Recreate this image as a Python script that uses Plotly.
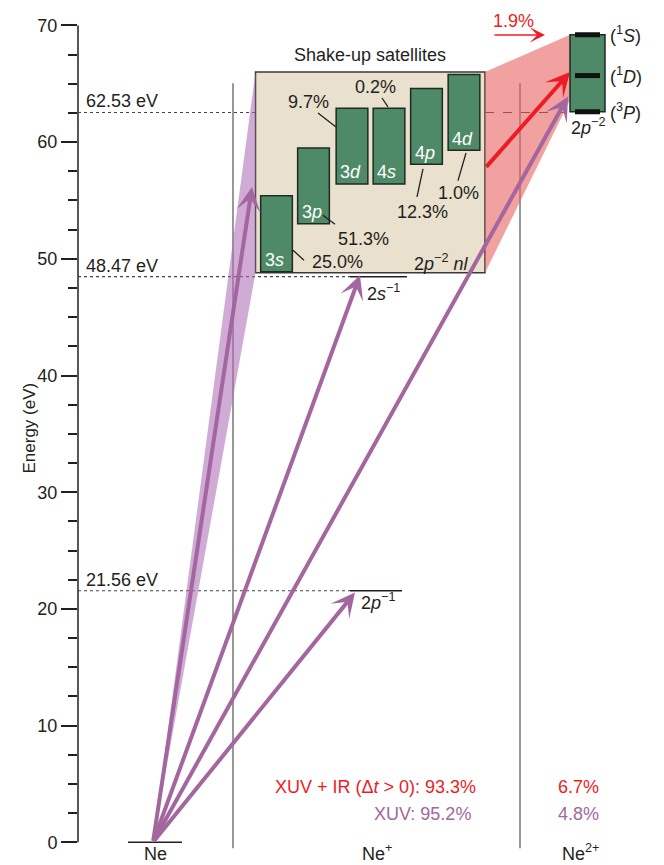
import plotly.graph_objects as go

# ---------------- data (energies in eV) ----------------
threshold_energies = [62.53, 48.47, 21.56]
threshold_labels = ["62.53 eV", "48.47 eV", "21.56 eV"]

ion_level_energies = [48.47, 21.56]
ion_level_names = ["2<i>s</i><sup>−1</sup>", "2<i>p</i><sup>−1</sup>"]

sat_names = ["3<i>s</i>", "3<i>p</i>", "3<i>d</i>", "4<i>s</i>", "4<i>p</i>", "4<i>d</i>"]
sat_low = [48.9, 53.0, 56.4, 56.4, 58.1, 59.3]
sat_high = [55.4, 59.5, 62.9, 62.9, 64.6, 65.8]
sat_share = ["25.0%", "51.3%", "9.7%", "0.2%", "12.3%", "1.0%"]

satellite_band = [48.8, 66.0]

dication_terms = ["(<sup>1</sup><i>S</i>)", "(<sup>1</sup><i>D</i>)", "(<sup>3</sup><i>P</i>)"]
dication_energies = [69.2, 65.7, 62.6]

species = ["Ne", "Ne<sup>+</sup>", "Ne<sup>2+</sup>"]

xuv_arrow_tips = [56.15, 48.6, 21.4, 63.9]
ir_arrow_span = [57.75, 66.0]

ir_shakeup_share = "1.9%"
single_yield = ["XUV + IR (Δ<i>t</i> > 0): 93.3%", "XUV: 95.2%"]
double_yield = ["6.7%", "4.8%"]

# ---------------- layout constants ----------------
INK = "#231F20"
RED = "#ED1C24"
PURPLE = "#A3669E"
GREEN = "#4F8A68"
BEIGE = "#E9E0CE"
FONT = "Liberation Sans, Arial, Helvetica, sans-serif"
FS = 18
Y_TOP = 842.3 / 11.67
Y_BOTTOM = -(865 - 842.3) / 11.67

X_NE = 153
species_x = [155, 377, 580]
separator_x = [233, 520]
box_x = [255.5, 485]
sat_x = [276.5, 313.5, 352, 389, 426.5, 464]
sat_w = 31.7
dication_x = [570, 605]
ion_level_x = [[350, 407], [350, 402]]
xuv_tip_x = [252, 360, 355, 568]
share_pos = [(337, 49.7), (363, 51.7), (308, 63.45), (375, 64.72), (422, 54.0), (458, 55.63)]
leader = [((293, 50.73), (304, 49.88)), ((323, 53.73), (335, 52.96)),
          ((318, 62.49), (336, 61.29)), ((382, 63.78), (388, 63.01)),
          ((417, 55.3), (423, 57.7)), ((458, 56.7), (466, 59.07))]

fig = go.Figure()
shapes = []
ann = []

# axis spine
shapes.append(dict(type="line", xref="paper", x0=0, x1=0, yref="y", y0=0, y1=70,
                   line=dict(color=INK, width=1.5), layer="below"))

# column separators
for sx in separator_x:
    shapes.append(dict(type="line", x0=sx, x1=sx, y0=-0.5, y1=65.05,
                       line=dict(color="#444", width=1.1), layer="below"))

# threshold guide lines
ends = [box_x[0], ion_level_x[0][0], ion_level_x[1][0]]
for e, lab, x1 in zip(threshold_energies, threshold_labels, ends):
    shapes.append(dict(type="line", x0=78, x1=x1, y0=e, y1=e,
                       line=dict(color="#444", width=1.1, dash="dot"), layer="below"))
    ann.append(dict(x=84, y=e + 0.95, text=lab, showarrow=False, xanchor="left",
                    yanchor="middle", font=dict(size=FS, color=INK)))
shapes.append(dict(type="line", x0=box_x[1], x1=dication_x[0], y0=threshold_energies[0],
                   y1=threshold_energies[0], line=dict(color="#333", width=1.1, dash="dash"),
                   layer="below"))

# ground state and ionic levels
shapes.append(dict(type="line", x0=128, x1=182, y0=0, y1=0,
                   line=dict(color=INK, width=1.5), layer="below"))
for e, (xa, xb) in zip(ion_level_energies, ion_level_x):
    shapes.append(dict(type="line", x0=xa, x1=xb, y0=e, y1=e,
                       line=dict(color=INK, width=1.5), layer="below"))

# shake-up satellite box
shapes.append(dict(type="rect", x0=box_x[0], x1=box_x[1], y0=satellite_band[0],
                   y1=satellite_band[1], fillcolor=BEIGE,
                   line=dict(color="#3a3a3a", width=1.5), layer="below"))

# transition cones
fig.add_trace(go.Scatter(
    x=[X_NE, box_x[0], box_x[0], X_NE],
    y=[0, satellite_band[1], satellite_band[0], 0],
    fill="toself", fillcolor="rgba(172,110,183,0.58)", mode="lines",
    line=dict(width=0), hoverinfo="skip", showlegend=False))
fig.add_trace(go.Scatter(
    x=[box_x[1], dication_x[0], dication_x[0], box_x[1], box_x[1]],
    y=[satellite_band[1], dication_energies[0], 63.6, satellite_band[0], satellite_band[1]],
    fill="toself", fillcolor="rgba(230,98,97,0.6)", mode="lines",
    line=dict(width=0), hoverinfo="skip", showlegend=False))

# satellite states
fig.add_trace(go.Bar(
    x=sat_x, y=[h - l for h, l in zip(sat_high, sat_low)], base=sat_low, width=sat_w,
    marker=dict(color=GREEN, line=dict(color="#1e2a22", width=1.5)),
    hoverinfo="skip", showlegend=False))
for name, xc, lo in zip(sat_names, sat_x, sat_low):
    ann.append(dict(x=xc - sat_w / 2 + 2, y=lo + 1.0, text=name, showarrow=False,
                    xanchor="left", yanchor="middle", font=dict(size=FS, color="white")))
for txt, (px, py), ((x0, y0), (x1, y1)) in zip(sat_share, share_pos, leader):
    ann.append(dict(x=px, y=py, text=txt, showarrow=False, xanchor="center",
                    yanchor="middle", font=dict(size=FS, color=INK)))
    shapes.append(dict(type="line", x0=x0, y0=y0, x1=x1, y1=y1,
                       line=dict(color=INK, width=1.3), layer="above"))

ann.append(dict(x=370, y=67.46, text="Shake-up satellites", showarrow=False,
                font=dict(size=FS, color=INK)))
ann.append(dict(x=441, y=49.7, text="2<i>p</i><sup>−2</sup> <i>nl</i>", showarrow=False,
                font=dict(size=FS, color=INK)))

# dication box with term levels
shapes.append(dict(type="rect", x0=dication_x[0], x1=dication_x[1],
                   y0=dication_energies[2], y1=dication_energies[0], fillcolor=GREEN,
                   line=dict(color="#1e2a22", width=1.5), layer="above"))
for e, term in zip(dication_energies, dication_terms):
    shapes.append(dict(type="line", x0=575, x1=600, y0=e, y1=e,
                       line=dict(color="#111", width=5), layer="above"))
    ann.append(dict(x=608, y=e, text=term, showarrow=False, xanchor="left",
                    yanchor="middle", font=dict(size=FS, color=INK)))
ann.append(dict(x=588, y=61.3, text="2<i>p</i><sup>−2</sup>", showarrow=False,
                font=dict(size=FS, color=INK)))

# ionic level labels
ann.append(dict(x=383, y=47.1, text=ion_level_names[0], showarrow=False,
                font=dict(size=FS, color=INK)))
ann.append(dict(x=378, y=20.6, text=ion_level_names[1], showarrow=False,
                font=dict(size=FS, color=INK)))

# XUV excitation arrows from the neutral ground state
for tx, ty in zip(xuv_tip_x, xuv_arrow_tips):
    ann.append(dict(x=tx, y=ty, ax=X_NE, ay=0, axref="x", ayref="y", text="",
                    showarrow=True, arrowhead=3, arrowsize=1.0, arrowwidth=4,
                    arrowcolor=PURPLE))

# IR-driven shake-up to the dication
ann.append(dict(x=570, y=ir_arrow_span[1], ax=box_x[1], ay=ir_arrow_span[0],
                axref="x", ayref="y", text="", showarrow=True, arrowhead=3,
                arrowsize=1.0, arrowwidth=4, arrowcolor=RED))
ann.append(dict(x=545, y=69.18, ax=493, ay=69.18, axref="x", ayref="y", text="",
                showarrow=True, arrowhead=3, arrowsize=1.7, arrowwidth=1.5,
                arrowcolor=RED))
ann.append(dict(x=513, y=70.4, text=ir_shakeup_share, showarrow=False,
                font=dict(size=FS, color=RED)))

# branching ratios
ann.append(dict(x=478, y=4.74, text=single_yield[0], showarrow=False, xanchor="right",
                font=dict(size=FS, color=RED)))
ann.append(dict(x=473, y=2.42, text=single_yield[1], showarrow=False, xanchor="right",
                font=dict(size=FS, color=PURPLE)))
ann.append(dict(x=578, y=4.74, text=double_yield[0], showarrow=False,
                font=dict(size=FS, color=RED)))
ann.append(dict(x=578, y=2.42, text=double_yield[1], showarrow=False,
                font=dict(size=FS, color=PURPLE)))

# species labels along the bottom edge
for sx, name in zip(species_x, species):
    ann.append(dict(x=sx, y=Y_BOTTOM, text=name, showarrow=False, yanchor="bottom",
                    borderpad=0, font=dict(size=FS, color=INK)))

# axis title
ann.append(dict(xref="paper", x=(18 - 78) / 586, y=35.5, text="Energy (eV)",
                textangle=-90, showarrow=False, font=dict(size=17, color=INK)))

fig.update_layout(
    width=664, height=865,
    margin=dict(l=78, r=0, t=0, b=0),
    paper_bgcolor="white", plot_bgcolor="white",
    font=dict(family=FONT, size=FS, color=INK),
    barmode="overlay",
    shapes=shapes, annotations=ann,
    xaxis=dict(range=[78, 664], visible=False, fixedrange=True),
    yaxis=dict(range=[Y_BOTTOM, Y_TOP], showgrid=False,
               zeroline=False, showline=False, tickmode="linear", tick0=0, dtick=10,
               ticks="outside", ticklen=16, tickwidth=1.5, tickcolor=INK,
               minor=dict(tickmode="linear", tick0=0, dtick=2.5, ticks="outside",
                          ticklen=9, tickwidth=1.5, tickcolor=INK, showgrid=False),
               tickfont=dict(size=FS, color=INK), automargin=False, fixedrange=True),
)

fig.write_html("out.html")
